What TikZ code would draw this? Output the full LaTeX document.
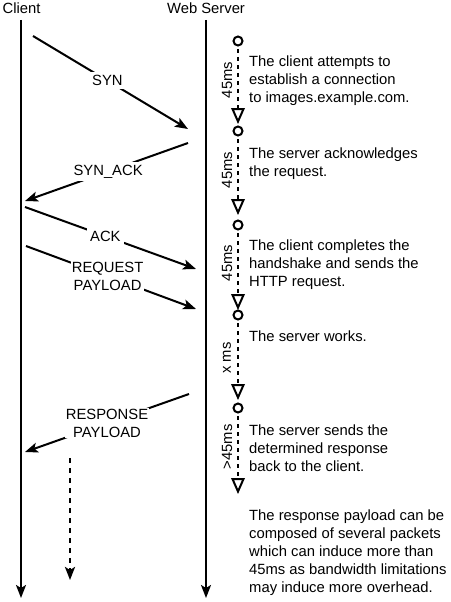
\documentclass[tikz,border=0pt]{standalone}
\usepackage{fontspec}
\setmainfont{Liberation Sans}
\usetikzlibrary{arrows.meta}
\begin{document}
\begin{tikzpicture}[x=1pt,y=-1pt,
  txt/.style={font=\fontsize{14.8}{18}\selectfont, inner sep=0pt},
  desc/.style={txt, anchor=north west, align=left},
  rlbl/.style={txt, rotate=90},
  msglbl/.style={txt, fill=white, inner sep=3pt, align=center},
  life/.style={line width=2pt, -{Stealth[length=13pt,width=10pt,inset=3pt]}},
  msg/.style={line width=2pt, -{Stealth[length=13pt,width=10pt,inset=3pt]}},
  dotarrow/.style={line width=2.5pt, dash pattern=on 5pt off 5pt, -{Stealth[length=13pt,width=10pt,inset=3pt]}},
  tdash/.style={line width=2pt, dash pattern=on 4pt off 4pt},
  circ/.style={circle, draw, line width=2pt, fill=white, inner sep=0pt, minimum size=9pt},
  tri/.style={draw, line width=2pt, fill=white, line join=miter}
]
\useasboundingbox (0,0) rectangle (450,602);
% headers
\node[txt] (client) at (21.5,8) {Client};
\node[txt] (server) at (206,8) {Web Server};
% lifelines
\coordinate (c0) at (21,20); \coordinate (c1) at (21,598);
\coordinate (s0) at (206,20); \coordinate (s1) at (206,598);
\draw[life] (c0) -- (c1);
\draw[life] (s0) -- (s1);
% messages
\coordinate (m1a) at (33,36);  \coordinate (m1b) at (188,129);
\coordinate (m2a) at (188,143); \coordinate (m2b) at (25,201);
\coordinate (m3a) at (25,207); \coordinate (m3b) at (196,269);
\coordinate (m4a) at (26,246); \coordinate (m4b) at (196,309);
\coordinate (m5a) at (189,394); \coordinate (m5b) at (25,452);
\draw[msg] (m1a) -- node[msglbl, pos=0.48] (l1) {SYN} (m1b);
\draw[msg] (m2a) -- node[msglbl, pos=0.49] (l2) {SYN\_ACK} (m2b);
\draw[msg] (m3a) -- node[msglbl, pos=0.47] (l3) {ACK} (m3b);
\draw[msg] (m4a) -- node[msglbl, pos=0.48, inner sep=1pt] (l4) {REQUEST\\PAYLOAD} (m4b);
\draw[msg] (m5a) -- node[msglbl, pos=0.5, inner sep=1pt] (l5) {RESPONSE\\PAYLOAD} (m5b);
% dashed continuation arrow
\coordinate (da) at (70,458); \coordinate (db) at (70,580);
\draw[dotarrow] (da) -- (db);
% timeline
\foreach \i/\c/\t in {1/41/109, 2/131/200, 3/225/295, 4/315/385, 5/408/479} {
  \coordinate (tr\i) at (238,\t);
  \draw[tdash] (238,\c) -- (tr\i);
  \draw[tri] (tr\i) ++(-5.5,0) -- ++(11,0) -- ++(-5.5,12.5) -- cycle;
  \node[circ] (d\i) at (238,\c) {};
}
\node[rlbl] (r1) at (227,80) {45ms};
\node[rlbl] (r2) at (227,170) {45ms};
\node[rlbl] (r3) at (227,263) {45ms};
\node[rlbl] (r4) at (227,358) {x ms};
\node[rlbl] (r5) at (227,447) {>45ms};
% descriptions
\node[desc] (t1) at (249,56) {The client attempts to\\establish a connection\\to images.example.com.};
\node[desc] (t2) at (249,148) {The server acknowledges\\the request.};
\node[desc] (t3) at (249,239.5) {The client completes the\\handshake and sends the\\HTTP request.};
\node[desc] (t4) at (249,331) {The server works.};
\node[desc] (t5) at (249,424.5) {The server sends the\\determined response\\back to the client.};
\node[desc] (t6) at (249,509.5) {The response payload can be\\composed of several packets\\which can induce more than\\45ms as bandwidth limitations\\may induce more overhead.};
\end{tikzpicture}
\end{document}
